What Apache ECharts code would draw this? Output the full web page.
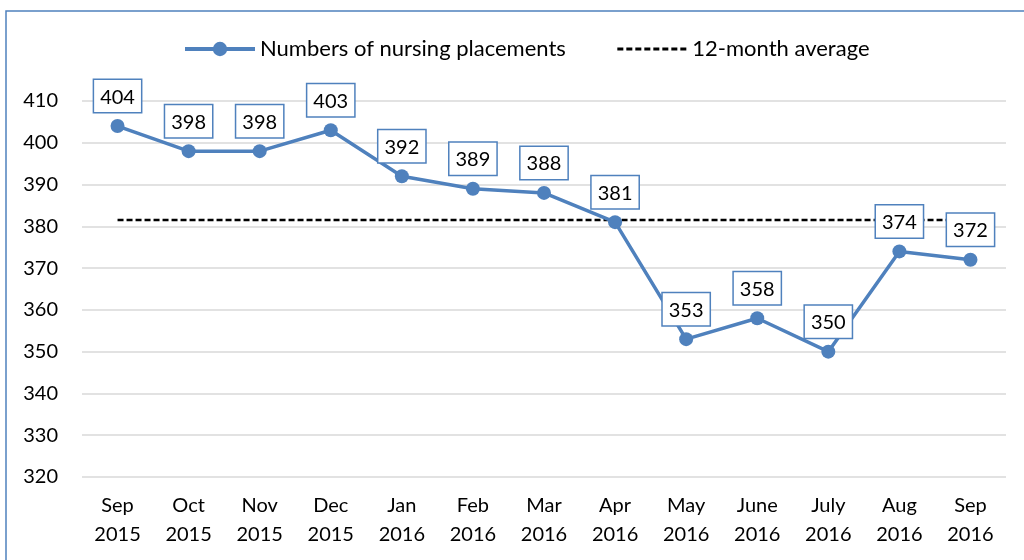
<!DOCTYPE html>
<html>
<head>
<meta charset="utf-8">
<script src="https://cdn.jsdelivr.net/npm/echarts@6/dist/echarts.min.js"></script>
<style>
  html, body { margin: 0; padding: 0; background: #fff; }
  #chart { width: 1024px; height: 560px; }
</style>
</head>
<body>
<div id="chart"></div>
<script>
// months along the x axis (two-line labels)
var months = ["Sep\n2015", "Oct\n2015", "Nov\n2015", "Dec\n2015", "Jan\n2016", "Feb\n2016", "Mar\n2016",
  "Apr\n2016", "May\n2016", "June\n2016", "July\n2016", "Aug\n2016", "Sep\n2016"];
var placements = [404, 398, 398, 403, 392, 389, 388, 381, 353, 358, 350, 374, 372];
var average = [381.5, 381.5, 381.5, 381.5, 381.5, 381.5, 381.5, 381.5, 381.5, 381.5, 381.5, 381.5, 381.5];

var blue = "#4f81bd";
var font = "Lato, 'Noto Sans', sans-serif";

var chart = echarts.init(document.getElementById("chart"));
chart.setOption({
  animation: false,
  textStyle: { fontFamily: font },
  graphic: [
    {
      type: "rect",
      shape: { x: 6, y: 11, width: 1040, height: 580 },
      style: { fill: null, stroke: blue, lineWidth: 1.5 },
      z: -1
    }
  ],
  legend: {
    left: 178,
    top: 33,
    itemWidth: 70,
    itemHeight: 18,
    itemGap: 50,
    textStyle: { fontSize: 22, color: "#000", fontFamily: font },
    data: [
      {
        name: "Numbers of nursing placements",
        lineStyle: { width: 4 }
      },
      {
        name: "12-month average",
        itemStyle: { color: "rgba(0,0,0,0)", borderWidth: 0 },
        lineStyle: { width: 3, type: [6, 3] }
      }
    ]
  },
  grid: { left: 82, right: 18, top: 101, bottom: 83, containLabel: false },
  xAxis: {
    type: "category",
    data: months,
    boundaryGap: true,
    axisLine: { show: false },
    axisTick: { show: false },
    axisLabel: { fontSize: 20, color: "#000", lineHeight: 29, margin: 14, interval: 0 }
  },
  yAxis: {
    type: "value",
    min: 320,
    max: 410,
    interval: 10,
    axisLine: { show: false },
    axisTick: { show: false },
    axisLabel: { fontSize: 20, color: "#000", margin: 24 },
    splitLine: { lineStyle: { color: "#d9d9d9", width: 1.5 } }
  },
  series: [
    {
      name: "Numbers of nursing placements",
      type: "line",
      data: placements,
      symbol: "circle",
      symbolSize: 14,
      z: 3,
      lineStyle: { color: blue, width: 3.5 },
      itemStyle: { color: blue },
      label: {
        show: true,
        position: "top",
        distance: 7,
        fontSize: 20,
        color: "#000",
        backgroundColor: "#fff",
        borderColor: blue,
        borderWidth: 1.5,
        padding: [7, 6, 5, 6]
      }
    },
    {
      name: "12-month average",
      type: "line",
      data: average,
      symbol: "none",
      z: 2,
      lineStyle: { color: "#000", width: 2.5, type: [6, 3] },
      itemStyle: { color: "#000" }
    }
  ]
});
</script>
</body>
</html>
